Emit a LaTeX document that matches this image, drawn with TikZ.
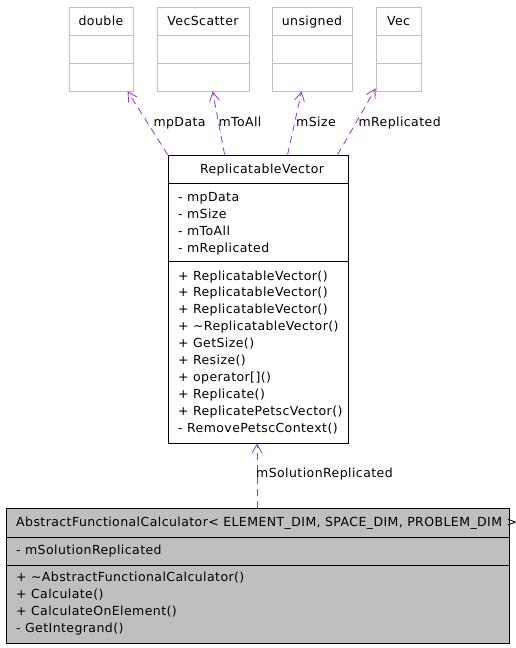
\documentclass[tikz,border=0pt]{standalone}
\usepackage{fontspec}
\setmainfont[LetterSpace=3.4]{DejaVu Sans}
\usetikzlibrary{arrows.meta,calc}
\definecolor{edgepurple}{HTML}{9A32CD}
\definecolor{boxgray}{HTML}{BFBFBF}
\definecolor{linegray}{HTML}{BFBFBF}
\begin{document}
\begin{tikzpicture}[x=1pt,y=-1pt,
  txt/.style={font=\fontsize{12.5}{14}\selectfont, inner sep=0pt, anchor=base west},
  ctxt/.style={font=\fontsize{12.5}{14}\selectfont, inner sep=0pt, anchor=base},
  graybox/.style={draw=linegray, line width=0.8pt, inner sep=0pt},
  classbox/.style={draw=black, line width=0.8pt, inner sep=0pt},
  dep/.style={draw=edgepurple, line width=0.8pt, dash pattern=on 7pt off 5pt,
     -{Straight Barb[length=9pt,width=10pt,line width=0.8pt]}},
]
\useasboundingbox (0,0) rectangle (515,648);

% ---- top boxes (used types)
\node[graybox, minimum width=64pt, minimum height=84pt] (double) at (101,49) {};
\draw[linegray, line width=0.8pt] (69,35) -- (133,35) (69,63) -- (133,63);
\node[ctxt] (tdouble) at (101,25.5) {double};

\node[graybox, minimum width=92pt, minimum height=84pt] (vecscatter) at (203,49) {};
\draw[linegray, line width=0.8pt] (157,35) -- (249,35) (157,63) -- (249,63);
\node[ctxt] (tvecscatter) at (203,25.5) {VecScatter};

\node[graybox, minimum width=80pt, minimum height=84pt] (unsigned) at (312,49) {};
\draw[linegray, line width=0.8pt] (272,35) -- (352,35) (272,63) -- (352,63);
\node[ctxt] (tunsigned) at (312,25.5) {unsigned};

\node[graybox, minimum width=45pt, minimum height=84pt] (vec) at (398.5,49) {};
\draw[linegray, line width=0.8pt] (376,35) -- (421,35) (376,63) -- (421,63);
\node[ctxt] (tvec) at (398.5,25.5) {Vec};

% ---- ReplicatableVector
\node[classbox, minimum width=180pt, minimum height=288pt] (rv) at (258,299) {};
\draw[line width=0.8pt] (168,183) -- (348,183) (168,261) -- (348,261);
\node[ctxt] (rvtitle) at (262,173) {ReplicatableVector};
\node[txt] (a1) at (178,201.5) {- mpData};
\node[txt] (a2) at (178,218.4) {- mSize};
\node[txt] (a3) at (178,235.3) {- mToAll};
\node[txt] (a4) at (178,252.2) {- mReplicated};
\node[txt] (m1) at (178,280) {+ ReplicatableVector()};
\node[txt] (m2) at (178,296.9) {+ ReplicatableVector()};
\node[txt] (m3) at (178,313.8) {+ ReplicatableVector()};
\node[txt] (m4) at (178,330.7) {+ \char"223C ReplicatableVector()};
\node[txt] (m5) at (178,347.6) {+ GetSize()};
\node[txt] (m6) at (178,364.5) {+ Resize()};
\node[txt] (m7) at (178,381.4) {+ operator[]()};
\node[txt] (m8) at (178,398.3) {+ Replicate()};
\node[txt] (m9) at (178,415.2) {+ ReplicatePetscVector()};
\node[txt] (m10) at (178,432.1) {- RemovePetscContext()};

% ---- AbstractFunctionalCalculator
\node[classbox, fill=boxgray, minimum width=503pt, minimum height=135pt] (afc) at (257.5,575.5) {};
\draw[line width=0.8pt] (6,537) -- (509,537) (6,565) -- (509,565);
\begin{scope}
\clip (6,508) rectangle (515,537);
\node[txt] (afctitle) at (16,526.7) {AbstractFunctionalCalculator< ELEMENT\_DIM, SPACE\_DIM, PROBLEM\_DIM >};
\end{scope}
\node[txt] (b1) at (16,554) {- mSolutionReplicated};
\node[txt] (b2) at (16,581.7) {+ \char"223C AbstractFunctionalCalculator()};
\node[txt] (b3) at (16,598.7) {+ Calculate()};
\node[txt] (b4) at (16,615.7) {+ CalculateOnElement()};
\node[txt] (b5) at (16,632.7) {- GetIntegrand()};

% ---- connectors
\coordinate (s1) at (rv.north west);
\coordinate (s2) at ($(rv.north west)+(57,0)$);
\coordinate (s3) at ($(rv.north west)+(120,0)$);
\coordinate (s4) at ($(rv.north west)+(170,0)$);
\coordinate (e1) at ($(double.south west)+(59,0)$);
\coordinate (e2) at ($(vecscatter.south west)+(56,0)$);
\coordinate (e3) at ($(unsigned.south west)+(30,0)$);
\coordinate (e4) at ($(vec.south west)+(0,-3)$);
\coordinate (xline) at (257,0);
\draw[dep] (s1) -- (e1);
\draw[dep] (s2) -- (e2);
\draw[dep] (s3) -- (e3);
\draw[dep] (s4) -- (e4);
\draw[dep] (afc.north -| xline) -- (rv.south -| xline);

\node[txt] (l1) at (153.3,126) {mpData};
\node[txt] (l2) at (218.3,126) {mToAll};
\node[txt] (l3) at (296,126) {mSize};
\node[txt] (l4) at (358.3,126) {mReplicated};
\node[txt] (l5) at (256,477) {mSolutionReplicated};
\end{tikzpicture}
\end{document}
